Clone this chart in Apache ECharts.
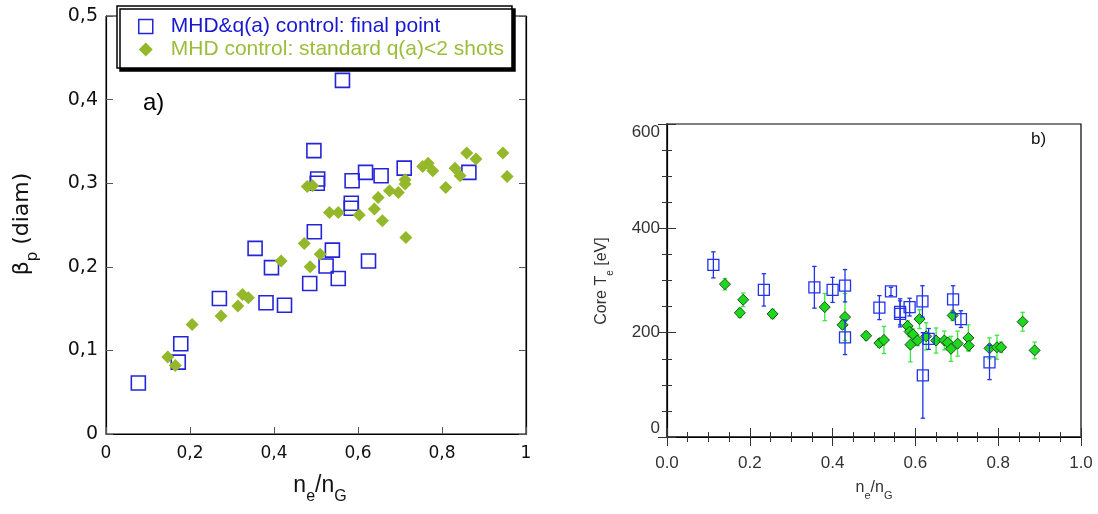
<!DOCTYPE html>
<html>
<head>
<meta charset="utf-8">
<script src="https://cdn.jsdelivr.net/npm/echarts@6/dist/echarts.min.js"></script>
<style>html,body{margin:0;padding:0;background:#fff}#c{width:1098px;height:514px}</style>
</head>
<body>
<div id="c"></div>
<script>
// ---------- Panel a data ----------
const aBlueX = [0.563,0.495,0.504,0.503,0.586,0.618,0.655,0.710,0.864,0.584,0.584,0.496,0.355,0.539,0.394,0.524,0.625,0.553,0.485,0.270,0.381,0.425,0.178,0.172,0.077];
const aBlueY = [0.423,0.339,0.305,0.300,0.303,0.313,0.309,0.318,0.313,0.276,0.270,0.242,0.222,0.220,0.199,0.201,0.207,0.186,0.180,0.162,0.157,0.154,0.108,0.086,0.061];
const aGreenX = [0.859,0.945,0.881,0.767,0.754,0.778,0.831,0.843,0.955,0.809,0.712,0.712,0.675,0.696,0.648,0.479,0.492,0.532,0.553,0.603,0.639,0.658,0.714,0.472,0.510,0.417,0.486,0.325,0.339,0.314,0.274,0.205,0.147,0.165];
const aGreenY = [0.336,0.336,0.329,0.324,0.320,0.315,0.318,0.309,0.308,0.295,0.304,0.299,0.291,0.289,0.283,0.296,0.297,0.265,0.265,0.262,0.269,0.255,0.235,0.228,0.215,0.207,0.200,0.167,0.163,0.153,0.141,0.131,0.092,0.082];
const aXTicks = ['0','0,2','0,4','0,6','0,8','1'];
const aYTicks = ['0','0,1','0,2','0,3','0,4','0,5'];
const aBlueName = 'MHD&q(a) control: final point';
const aGreenName = 'MHD control: standard q(a)<2 shots';

// ---------- Panel b data ----------
const bBlueX = [0.112,0.234,0.356,0.400,0.430,0.430,0.513,0.541,0.563,0.563,0.586,0.617,0.691,0.710,0.632,0.618,0.779];
const bBlueY = [330,282,287,282,290,191,248,279,240,236,249,260,264,226,188,118,143];
const bBlueErr = [25,31,40,24,31,33,23,8,25,25,17,30,26,16,20,82,33];
const bGreenX = [0.140,0.176,0.184,0.255,0.381,0.430,0.424,0.481,0.513,0.524,0.581,0.586,0.594,0.588,0.605,0.610,0.626,0.650,0.670,0.678,0.686,0.690,0.702,0.728,0.729,0.779,0.797,0.807,0.859,0.888];
const bGreenY = [293,238,263,236,249,230,215,194,180,186,213,202,197,177,185,226,193,185,185,181,169,233,179,190,175,170,172,172,221,166];
const bGreenErr = [11,9,13,9,26,45,8,8,8,26,10,10,10,33,10,18,26,24,18,10,24,10,24,25,10,20,23,10,18,16];
const bXTicks = ['0.0','0.2','0.4','0.6','0.8','1.0'];
const bYTicks = ['0','200','400','600'];

const zip2 = (xs, ys) => xs.map((x, i) => [x, ys[i]]);
const zip3 = (xs, ys, es) => xs.map((x, i) => [x, ys[i], es[i]]);

function errRender(color) {
  return function (params, api) {
    const x = api.value(0), y = api.value(1), e = api.value(2);
    const t = api.coord([x, y + e]), b = api.coord([x, y - e]);
    const w = 2.2;
    const st = { stroke: color, lineWidth: 1.3 };
    return { type: 'group', children: [
      { type: 'line', shape: { x1: t[0], y1: t[1], x2: b[0], y2: b[1] }, style: st },
      { type: 'line', shape: { x1: t[0] - w, y1: t[1], x2: t[0] + w, y2: t[1] }, style: st },
      { type: 'line', shape: { x1: b[0] - w, y1: b[1], x2: b[0] + w, y2: b[1] }, style: st }
    ]};
  };
}

const chart = echarts.init(document.getElementById('c'), null, { renderer: 'canvas' });
const fA = 'DejaVu Sans';
const fB = 'Liberation Sans';
const sqPath = 'path://M0,0L10,0L10,10L0,10Z';
const dmPath = 'path://M5,0L10,5L5,10L0,5Z';

const option = {
  animation: false,
  backgroundColor: '#fff',
  grid: [
    { left: 106, top: 16, width: 420, height: 418, show: true, borderColor: '#000', borderWidth: 1 },
    { left: 667, top: 124, width: 414, height: 313, show: true, borderColor: '#000', borderWidth: 1.2 }
  ],
  legend: {
    left: 117, top: 6, orient: 'vertical',
    padding: [10, 8, 8, 21], itemGap: 2, itemWidth: 40, itemHeight: 14,
    backgroundColor: '#fff', borderColor: '#000', borderWidth: 1.5,
    shadowColor: '#000', shadowBlur: 0, shadowOffsetX: 3, shadowOffsetY: 3,
    textStyle: { fontFamily: fB, fontSize: 21 },
    data: [
      { name: aBlueName, icon: sqPath, itemStyle: { color: 'rgba(0,0,0,0)', borderColor: '#2525d8', borderWidth: 1.5 }, textStyle: { color: '#1818d0' } },
      { name: aGreenName, icon: dmPath, itemStyle: { color: '#95b82a', borderWidth: 0 }, textStyle: { color: '#9bbd3a' } }
    ]
  },
  xAxis: [
    { gridIndex: 0, type: 'value', min: 0, max: 1, interval: 0.2, position: 'bottom',
      axisLine: { lineStyle: { color: '#000', width: 1.2 } },
      axisTick: { inside: true, length: 7, lineStyle: { color: '#555' } },
      axisLabel: { margin: 11, fontFamily: fA, fontSize: 17, color: '#111', formatter: (v, i) => aXTicks[i] },
      splitLine: { show: false } },
    { gridIndex: 1, type: 'value', min: 0, max: 1, interval: 0.2, position: 'bottom',
      axisLine: { lineStyle: { color: '#444', width: 2 } },
      axisTick: { inside: true, length: 9, lineStyle: { color: '#333' } },
      minorTick: { show: true, splitNumber: 4, length: 5, lineStyle: { color: '#333' } },
      axisLabel: { margin: 18, fontFamily: fB, fontSize: 17, color: '#333', formatter: (v, i) => bXTicks[i] },
      splitLine: { show: false } },
    { gridIndex: 1, type: 'value', min: 0, max: 1, interval: 0.2, position: 'top',
      axisLine: { lineStyle: { color: '#000', width: 1.2 } },
      axisTick: { inside: true, length: 9, lineStyle: { color: '#333' } },
      minorTick: { show: true, splitNumber: 4, length: 5, lineStyle: { color: '#333' } },
      axisLabel: { show: false }, splitLine: { show: false } }
  ],
  yAxis: [
    { gridIndex: 0, type: 'value', min: 0, max: 0.5, interval: 0.1, position: 'left',
      axisLine: { show: true, lineStyle: { color: '#000', width: 1.2 } },
      axisTick: { show: true, inside: true, length: 7, lineStyle: { color: '#555' } },
      axisLabel: { margin: 8, fontFamily: fA, fontSize: 19, color: '#111', formatter: (v, i) => aYTicks[i] },
      splitLine: { show: false } },
    { gridIndex: 0, type: 'value', min: 0, max: 0.5, interval: 0.1, position: 'right',
      axisLine: { show: true, lineStyle: { color: '#000', width: 1.2 } },
      axisTick: { show: true, inside: true, length: 7, lineStyle: { color: '#555' } },
      axisLabel: { show: false }, splitLine: { show: false } },
    { gridIndex: 1, type: 'value', min: 0, max: 600, interval: 200, position: 'left',
      axisLine: { show: true, lineStyle: { color: '#444', width: 2 } },
      axisTick: { show: true, inside: true, length: 9, lineStyle: { color: '#333' } },
      minorTick: { show: true, splitNumber: 4, length: 5, lineStyle: { color: '#333' } },
      axisLabel: { margin: 7, fontFamily: fB, fontSize: 17, color: '#333',
        verticalAlignMaxLabel: 'top', verticalAlignMinLabel: 'bottom',
        formatter: (v, i) => bYTicks[i] },
      splitLine: { show: false } },
    { gridIndex: 1, type: 'value', min: 0, max: 600, interval: 200, position: 'right',
      axisLine: { show: true, lineStyle: { color: '#000', width: 1.2 } },
      axisTick: { show: true, inside: true, length: 9, lineStyle: { color: '#333' } },
      minorTick: { show: true, splitNumber: 4, length: 5, lineStyle: { color: '#333' } },
      axisLabel: { show: false }, splitLine: { show: false } }
  ],
  series: [
    { name: aBlueName, type: 'scatter', xAxisIndex: 0, yAxisIndex: 0, symbol: 'rect', symbolSize: 14,
      itemStyle: { color: 'rgba(0,0,0,0)', borderColor: '#2525d8', borderWidth: 1.6, opacity: 1 },
      data: zip2(aBlueX, aBlueY) },
    { name: aGreenName, type: 'scatter', xAxisIndex: 0, yAxisIndex: 0, symbol: 'diamond', symbolSize: 13,
      itemStyle: { color: '#95b82a', opacity: 1 },
      data: zip2(aGreenX, aGreenY) },
    { name: 'bGreenErr', type: 'custom', xAxisIndex: 1, yAxisIndex: 2, encode: { x: 0, y: 1 },
      renderItem: errRender('#3de83d'), data: zip3(bGreenX, bGreenY, bGreenErr), z: 2 },
    { name: 'bGreen', type: 'scatter', xAxisIndex: 1, yAxisIndex: 2, symbol: 'diamond', symbolSize: 11,
      itemStyle: { color: '#1ed81e', borderColor: '#1d4a1d', borderWidth: 1, opacity: 1 },
      data: zip2(bGreenX, bGreenY), z: 3 },
    { name: 'bBlueErr', type: 'custom', xAxisIndex: 1, yAxisIndex: 2, encode: { x: 0, y: 1 },
      renderItem: errRender('#2233e6'), data: zip3(bBlueX, bBlueY, bBlueErr), z: 4 },
    { name: 'bBlue', type: 'scatter', xAxisIndex: 1, yAxisIndex: 2, symbol: 'rect', symbolSize: 11,
      itemStyle: { color: 'rgba(0,0,0,0)', borderColor: '#2233ee', borderWidth: 1.3, opacity: 1 },
      data: zip2(bBlueX, bBlueY), z: 5 }
  ],
  graphic: [
    { type: 'text', left: 143, top: 91, style: { text: 'a)', fontFamily: fB, fontSize: 24, fill: '#000' } },
    { type: 'text', left: 1031, top: 131, style: { text: 'b)', fontFamily: fB, fontSize: 17, fill: '#111' } },
    { type: 'text', x: 28, y: 224, rotation: Math.PI / 2,
      style: { text: '{m|β}{s|p}{m| (diam)}', align: 'center', verticalAlign: 'middle',
        rich: { m: { fontFamily: fA, fontSize: 22, lineHeight: 26, padding: [0, 0, 8, 0], verticalAlign: 'bottom', fill: '#111' },
                s: { fontFamily: fA, fontSize: 15, lineHeight: 18, verticalAlign: 'bottom', fill: '#111' } } } },
    { type: 'text', x: 320, y: 492,
      style: { text: '{m|n}{s|e}{m|/n}{s|G}', align: 'center', verticalAlign: 'middle',
        rich: { m: { fontFamily: fB, fontSize: 23, lineHeight: 26, padding: [0, 0, 8, 0], verticalAlign: 'bottom', fill: '#111' },
                s: { fontFamily: fB, fontSize: 16, lineHeight: 18, verticalAlign: 'bottom', fill: '#111' } } } },
    { type: 'text', x: 606, y: 281, rotation: Math.PI / 2,
      style: { text: '{m|Core T}{s|e}{m| [eV]}', align: 'center', verticalAlign: 'middle',
        rich: { m: { fontFamily: fB, fontSize: 16, lineHeight: 18, padding: [0, 0, 5, 0], verticalAlign: 'bottom', fill: '#333' },
                s: { fontFamily: fB, fontSize: 10, lineHeight: 12, verticalAlign: 'bottom', fill: '#333' } } } },
    { type: 'text', x: 874, y: 492,
      style: { text: '{m|n}{s|e}{m|/n}{s|G}', align: 'center', verticalAlign: 'middle',
        rich: { m: { fontFamily: fB, fontSize: 16, lineHeight: 18, padding: [0, 0, 5, 0], verticalAlign: 'bottom', fill: '#333' },
                s: { fontFamily: fB, fontSize: 11, lineHeight: 12, verticalAlign: 'bottom', fill: '#333' } } } }
  ]
};
chart.setOption(option);
</script>
</body>
</html>
